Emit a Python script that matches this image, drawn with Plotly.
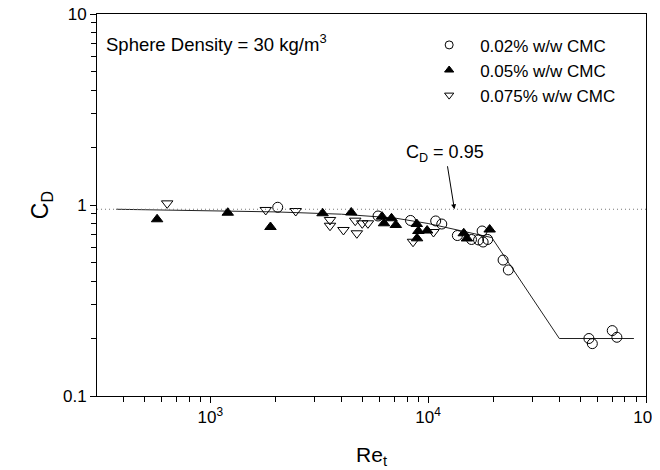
import math
import plotly.graph_objects as go

# DATA
RE_002 = [2040, 5890, 8300, 10830, 11550, 13620, 15810, 17690, 17040, 17880, 18760,
          22080, 23340, 54700, 56700, 70000, 73500]
CD_002 = [0.973, 0.876, 0.830, 0.825, 0.795, 0.692, 0.660, 0.731, 0.656, 0.640, 0.660,
          0.515, 0.457, 0.200, 0.188, 0.220, 0.203]

RE_005 = [570, 1203, 1889, 3276, 4436, 6143, 6273, 6790, 7107, 8866, 9018, 8895, 9894,
          14570, 15070, 19160]
CD_005 = [0.842, 0.911, 0.767, 0.905, 0.914, 0.869, 0.802, 0.852, 0.786, 0.795, 0.731,
          0.669, 0.735, 0.711, 0.668, 0.744]

RE_0075 = [634, 1797, 2467, 3544, 3544, 4085, 4627, 4707, 4984, 5293, 8523, 10580]
CD_0075 = [1.02, 0.942, 0.930, 0.835, 0.779, 0.740, 0.828, 0.711, 0.802, 0.802, 0.642, 0.722]

FIT_RE = [370, 2000, 4000, 7000, 10000, 14000, 19600, 40000, 88000]
FIT_CD = [0.95, 0.92, 0.895, 0.855, 0.80, 0.735, 0.675, 0.2, 0.2]

CD_REF = 0.95
ARROW_RE = 13200

SERIES = [
    ("0.02% w/w CMC", RE_002, CD_002, "circle-open"),
    ("0.05% w/w CMC", RE_005, CD_005, "triangle-up"),
    ("0.075% w/w CMC", RE_0075, CD_0075, "triangle-down-open"),
]

FONT = "Liberation Sans, Arial, sans-serif"

fig = go.Figure()

fig.add_trace(go.Scatter(x=FIT_RE, y=FIT_CD, mode="lines", showlegend=False,
                         line=dict(color="#222222", width=1)))

for name, xs, ys, sym in SERIES:
    fig.add_trace(go.Scatter(x=xs, y=ys, mode="markers", showlegend=False,
                             marker=dict(symbol=sym, size=10, color="black",
                                         line=dict(color="black", width=1))))

# smaller legend symbols, like the original
for name, xs, ys, sym in SERIES:
    fig.add_trace(go.Scatter(x=[None], y=[None], mode="markers", name=name,
                             marker=dict(symbol=sym, size=8, color="black",
                                         line=dict(color="black", width=1))))

fig.add_hline(y=CD_REF, line=dict(color="#777777", width=1.2, dash="1px,3px"))

fig.add_annotation(x=math.log10(ARROW_RE), y=math.log10(CD_REF), xref="x", yref="y",
                   text="C<sub>D</sub> = 0.95", showarrow=True, arrowhead=2,
                   arrowsize=1, arrowwidth=1, arrowcolor="black", ax=-9, ay=-56,
                   font=dict(size=18, color="black"))

fig.add_annotation(x=0.012, y=0.925, xref="paper", yref="paper", xanchor="left",
                   yanchor="middle", showarrow=False,
                   text="Sphere Density = 30 kg/m<sup>3</sup>",
                   font=dict(size=18.5, color="black"))

x_major = [1e3, 1e4, 1e5]
x_minor = [m * 10 ** e for e in (2, 3, 4) for m in range(2, 10) if m * 10 ** e >= 300]
y_major = [0.1, 1, 10]
y_minor = [m * 10 ** e for e in (-1, 0) for m in range(2, 10)]

axis_common = dict(type="log", showgrid=False, zeroline=False, showline=True,
                   linecolor="black", linewidth=1, mirror=True, ticks="outside",
                   ticklen=6, tickcolor="black", automargin=False,
                   ticklabeloverflow="allow", tickfont=dict(size=17, color="black"))

fig.update_xaxes(range=[2.48, 5], tickvals=x_major,
                 ticktext=["10<sup>3</sup>", "10<sup>4</sup>", "10<sup>5</sup>"],
                 minor=dict(tickvals=x_minor, ticks="outside", ticklen=5, tickcolor="black"),
                 title=dict(text="Re<sub>t</sub>", font=dict(size=21, color="black"), standoff=20),
                 **axis_common)
fig.update_yaxes(range=[-1, 1], tickvals=y_major, ticktext=["0.1", "1", "10"],
                 minor=dict(tickvals=y_minor, ticks="outside", ticklen=5, tickcolor="black"),
                 title=dict(text="C<sub>D</sub>", font=dict(size=23, color="black"), standoff=7),
                 **axis_common)

# the page adds an 8px body margin, so the margins are shifted by 8px
fig.update_layout(
    width=660, height=470,
    margin=dict(l=89, r=22, t=6, b=82),
    paper_bgcolor="white", plot_bgcolor="white",
    font=dict(family=FONT, color="black"),
    legend=dict(x=0.585, y=0.965, xanchor="left", yanchor="top", bgcolor="rgba(0,0,0,0)",
                font=dict(size=17), itemwidth=52, tracegroupgap=0),
)

fig.write_html("out.html")
